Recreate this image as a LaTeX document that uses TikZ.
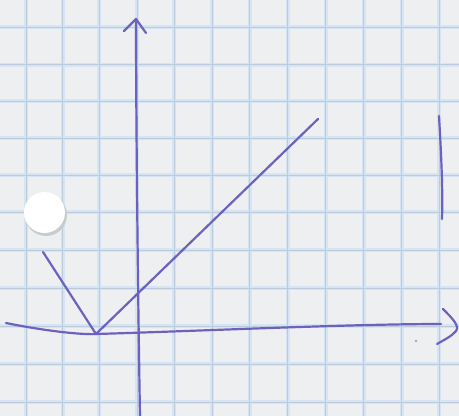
\documentclass[tikz,border=0pt]{standalone}
\definecolor{paper}{RGB}{238,239,240}
\definecolor{gridband}{RGB}{214,228,244}
\definecolor{gridcore}{RGB}{188,203,220}
\definecolor{ink}{RGB}{108,98,190}
\definecolor{shadow}{RGB}{200,204,206}
\definecolor{speck}{RGB}{150,150,160}
\begin{document}
\begin{tikzpicture}[x=1pt,y=-1pt,
  gridline/.style={draw=gridband,line width=4pt},
  gridcore/.style={draw=gridcore,line width=0.8pt},
  pen/.style={draw=ink,line width=2.2pt,line cap=round,line join=round}]
\fill[paper] (0,0) rectangle (459,416);
\useasboundingbox (0,0) rectangle (459,416);
% grid
\foreach \x in {26,62.5,99,137,174,212,249.5,287.5,325.5,363.5,401.5,439}
  {\draw[gridline] (\x,0) -- (\x,416);}
\foreach \y in {27,64.5,101,138,175,212,250,288,326,364,402}
  {\draw[gridline] (0,\y) -- (459,\y);}
\foreach \x in {26,62.5,99,137,174,212,249.5,287.5,325.5,363.5,401.5,439}
  {\draw[gridcore] (\x,0) -- (\x,416);}
\foreach \y in {27,64.5,101,138,175,212,250,288,326,364,402}
  {\draw[gridcore] (0,\y) -- (459,\y);}
% hole reinforcement sticker
\fill[shadow] (46,215) circle (21);
\fill[white] (44.5,212.5) circle (20.5);
% named points
\coordinate (ytop) at (136,19);
\coordinate (ybot) at (140,416);
\coordinate (xl) at (6,323);
\coordinate (xr) at (441,324);
\coordinate (v) at (96,334);
\coordinate (la) at (43,252);
\coordinate (ra) at (318,119);
% y axis
\draw[pen] (ybot) .. controls (138,300) and (136,120) .. (ytop);
\draw[pen] (124,31) -- (ytop) -- (146,33);
% x axis
\draw[pen] (xl) .. controls (40,330) and (80,335) .. (v) .. controls (200,331) and (350,324) .. (xr);
\draw[pen] (443,309) .. controls (452,318) and (460,326) .. (456,331) .. controls (452,336) and (444,340) .. (437,344);
% V graph
\draw[pen] (la) -- (v) -- (ra);
% right vertical mark
\draw[pen] (439,116) .. controls (441,150) and (443,190) .. (442,219);
% tiny mark
\fill[speck] (416,341) circle (1.2);
\end{tikzpicture}
\end{document}
